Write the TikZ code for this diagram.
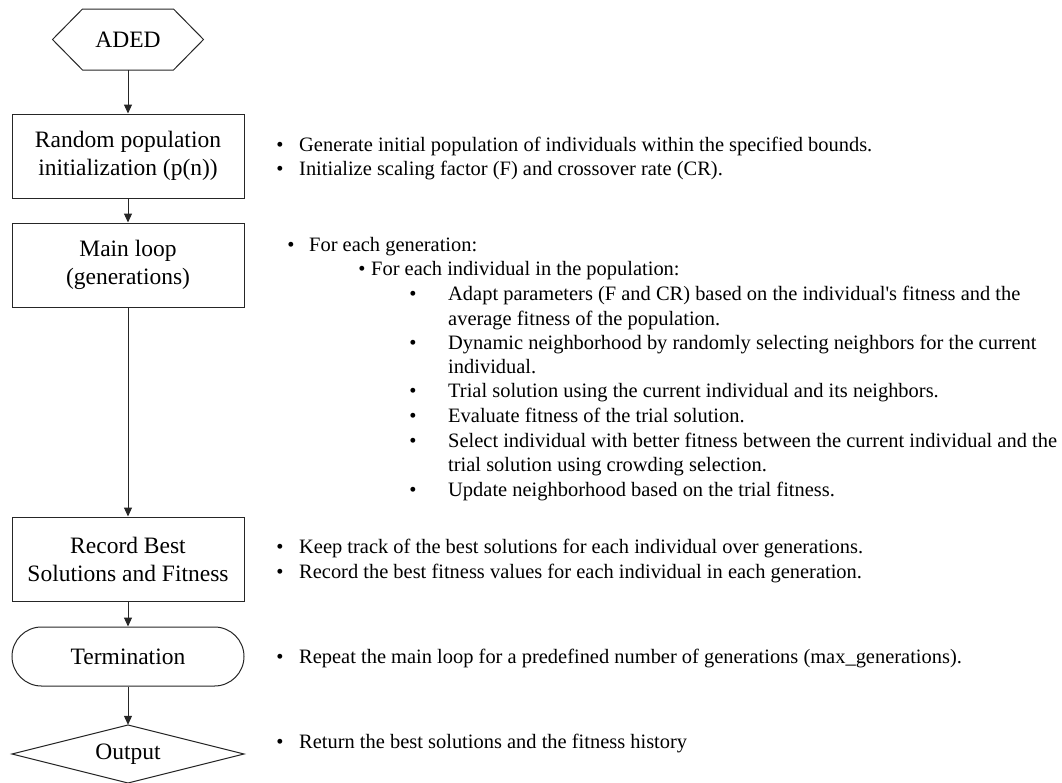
\documentclass[tikz,border=0pt]{standalone}
\usepackage{fontspec}
\setmainfont{Liberation Serif}
\usetikzlibrary{arrows.meta}
\newcommand\bxfont{\fontsize{23.5}{28}\selectfont}
\newcommand\txfont{\fontsize{20.45}{24.4}\selectfont}
\begin{document}
\begin{tikzpicture}[x=1pt,y=-1pt,
  shp/.style={draw=black!85, line width=1pt},
  box/.style={shp, minimum width=232pt, minimum height=84pt, align=center, font=\bxfont, inner sep=0pt},
  term/.style={shp, rounded corners=29.5pt, minimum width=232pt, minimum height=59pt, font=\bxfont, inner sep=0pt},
  ghost/.style={inner sep=0pt, font=\bxfont},
  arr/.style={draw=black!85, line width=1pt, -{Triangle[length=9pt,width=8pt]}},
  txt/.style={anchor=base west, inner sep=0pt, font=\txfont},
  blt/.style={anchor=base, inner sep=0pt, font=\txfont}
]
\useasboundingbox (0,0) rectangle (1062,782);

% left column
\draw[shp] (52.5,39.5) -- (82.5,9) -- (173.5,9) -- (203.5,39.5) -- (173.5,70) -- (82.5,70) -- cycle;
\node[ghost, minimum width=151pt, minimum height=61pt] (aded) at (128,39.5) {ADED};

\node[box] (init) at (128,156) {Random population\\initialization (p(n))};
\node[box] (loop) at (128,265) {Main loop\\(generations)};
\node[box] (rec) at (128,559) {Record Best\\Solutions and Fitness};
\node[term] (term) at (128,656.5) {Termination};

\draw[shp] (12,754) -- (128,725) -- (244,754) -- (128,783) -- cycle;
\node[ghost, minimum width=232pt, minimum height=58pt] (out) at (128,754) {Output};

\draw[arr] (aded.south) -- (init.north);
\draw[arr] (init.south) -- (loop.north);
\draw[arr] (loop.south) -- (rec.north);
\draw[arr] (rec.south) -- (term.north);
\draw[arr] (term.south) -- (out.north);

% right column: initialization
\node[blt] (b1) at (280,151) {•};
\node[txt] (t1) at (299,151) {Generate initial population of individuals within the specified bounds.};
\node[blt] (b2) at (280,175) {•};
\node[txt] (t2) at (299,175) {Initialize scaling factor (F) and crossover rate (CR).};

% main loop
\node[blt] (b3) at (291,251) {•};
\node[txt] (t3) at (309,251) {For each generation:};
\node[blt] (b4) at (362,275) {•};
\node[txt] (t4) at (371,275) {For each individual in the population:};
\node[blt] (b5) at (413,300) {•};
\node[txt] (t5) at (448,300) {Adapt parameters (F and CR) based on the individual\textquotesingle s fitness and the};
\node[txt] (t5b) at (448,325) {average fitness of the population.};
\node[blt] (b6) at (413,349) {•};
\node[txt] (t6) at (448,349) {Dynamic neighborhood by randomly selecting neighbors for the current};
\node[txt] (t6b) at (448,373) {individual.};
\node[blt] (b7) at (413,397) {•};
\node[txt] (t7) at (448,397) {Trial solution using the current individual and its neighbors.};
\node[blt] (b8) at (413,422) {•};
\node[txt] (t8) at (448,422) {Evaluate fitness of the trial solution.};
\node[blt] (b9) at (413,447) {•};
\node[txt] (t9) at (448,447) {Select individual with better fitness between the current individual and the};
\node[txt] (t9b) at (448,471) {trial solution using crowding selection.};
\node[blt] (b10) at (413,496) {•};
\node[txt] (t10) at (448,496) {Update neighborhood based on the trial fitness.};

% record
\node[blt] (b11) at (280,553) {•};
\node[txt] (t11) at (299,553) {Keep track of the best solutions for each individual over generations.};
\node[blt] (b12) at (280,578) {•};
\node[txt] (t12) at (299,578) {Record the best fitness values for each individual in each generation.};

% termination
\node[blt] (b13) at (280,663) {•};
\node[txt] (t13) at (299,663) {Repeat the main loop for a predefined number of generations (max\_generations).};

% output
\node[blt] (b14) at (280,748) {•};
\node[txt] (t14) at (299,748) {Return the best solutions and the fitness history};
\end{tikzpicture}
\end{document}
